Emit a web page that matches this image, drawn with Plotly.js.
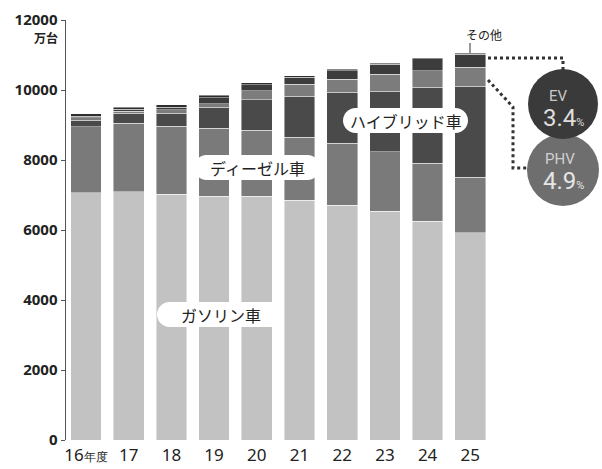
<!DOCTYPE html>
<html>
<head>
<meta charset="utf-8">
<script src="https://cdn.plot.ly/plotly-3.0.1.min.js"></script>
<style>html,body{margin:0;padding:0;background:#fff;}#chart{width:602px;height:469px;}</style>
</head>
<body>
<div id="chart"></div>
<script>
// ---- data (万台) ----
const years = ['16','17','18','19','20','21','22','23','24','25'];
const yearLabels = ['16<span style="font-size:12px">年度</span>','17','18','19','20','21','22','23','24','25'];
const gasoline = [7066, 7094, 7020, 6971, 6971, 6857, 6714, 6543, 6257, 5923];
const diesel   = [1891, 1955, 1951, 1943, 1886, 1800, 1771, 1694, 1649, 1583];
const hybrid   = [186, 280, 372, 600, 860, 1160, 1450, 1734, 2170, 2600];
const phv      = [60, 70, 86, 100, 257, 343, 371, 480, 470, 541];
const ev       = [45, 45, 73, 170, 180, 210, 250, 290, 350, 376];
const other    = [70, 70, 70, 60, 50, 40, 30, 25, 25, 25];
const yTicks   = [0, 2000, 4000, 6000, 8000, 10000, 12000];
const seriesNames = ['ガソリン車', 'ディーゼル車', 'ハイブリッド車', 'PHV', 'EV', 'その他'];
const evShare = '3.4';
const phvShare = '4.9';

// ---- layout helpers (pixel -> paper) ----
const L = 66, W = 536, T = 20, H = 420;
const px = x => (x - L) / W;
const py = y => (T + H - y) / H;

const colors = ['#c2c2c2', '#7a7a7a', '#4a4a4a', '#7c7c7c', '#3c3c3c', '#2e2e2e'];
const allSeries = [gasoline, diesel, hybrid, phv, ev, other];
const traces = allSeries.map((vals, i) => ({
  type: 'bar', x: years, y: vals, name: seriesNames[i],
  marker: {color: colors[i], line: {color: 'rgba(255,255,255,0.55)', width: 0.8}},
  hoverinfo: 'skip'
}));

function pill(x0, y0, x1, y1) {
  const r = (y1 - y0) / 2;
  const P = (x, y) => px(x) + ',' + py(y);
  const k = 0.55 * r;
  return 'M' + P(x0 + r, y0) + ' L' + P(x1 - r, y0) +
    ' C' + P(x1 - r + k, y0) + ' ' + P(x1, y0 + r - k) + ' ' + P(x1, y0 + r) +
    ' C' + P(x1, y1 - r + k) + ' ' + P(x1 - r + k, y1) + ' ' + P(x1 - r, y1) +
    ' L' + P(x0 + r, y1) +
    ' C' + P(x0 + r - k, y1) + ' ' + P(x0, y1 - r + k) + ' ' + P(x0, y0 + r) +
    ' C' + P(x0, y0 + r - k) + ' ' + P(x0 + r - k, y0) + ' ' + P(x0 + r, y0) + ' Z';
}
function path(points) {
  return points.map((p, i) => (i ? 'L' : 'M') + px(p[0]) + ',' + py(p[1])).join(' ');
}

const dot = {color: '#333', width: 3, dash: 'dot'};
const shapes = [
  {type: 'path', xref: 'paper', yref: 'paper', path: pill(157, 302, 284, 327), fillcolor: '#fff', line: {width: 0}},
  {type: 'path', xref: 'paper', yref: 'paper', path: pill(194, 155, 320, 180), fillcolor: '#fff', line: {width: 0}},
  {type: 'path', xref: 'paper', yref: 'paper', path: pill(343, 108, 468, 133), fillcolor: '#fff', line: {width: 0}},
  {type: 'path', xref: 'paper', yref: 'paper', path: path([[488, 58], [563, 58], [563, 70]]), line: dot},
  {type: 'path', xref: 'paper', yref: 'paper', path: path([[488, 80], [513, 107], [513, 168], [528, 168]]), line: dot},
  {type: 'circle', xref: 'paper', yref: 'paper', x0: px(527), x1: px(599), y0: py(206), y1: py(134), fillcolor: '#6e6e6e', line: {width: 0}},
  {type: 'circle', xref: 'paper', yref: 'paper', x0: px(528), x1: px(598), y0: py(139), y1: py(69), fillcolor: '#3a3a3a', line: {width: 0}},
  {type: 'line', xref: 'paper', yref: 'paper', x0: px(470), x1: px(470), y0: py(43), y1: py(53), line: {color: '#333', width: 1}}
];

const jp = 'Noto Sans CJK JP, Noto Sans, sans-serif';
const ann = (x, y, text, size, color, extra) => Object.assign({
  xref: 'paper', yref: 'paper', x: px(x), y: py(y), text: text, showarrow: false,
  xanchor: 'center', yanchor: 'middle', font: {family: jp, size: size, color: color}
}, extra || {});

const annotations = [
  ann(221, 315, seriesNames[0], 16, '#222'),
  ann(257, 168, seriesNames[1], 16, '#222'),
  ann(406, 121, seriesNames[2], 16, '#222'),
  ann(484, 34, seriesNames[5], 12, '#222'),
  ann(46, 38, '万台', 12, '#222', {font: {family: jp, size: 12, color: '#222', weight: 'bold'}}),
  ann(558, 96, 'EV', 15, '#c8c8c8', {font: {family: 'Roboto, sans-serif', size: 15, color: '#c8c8c8'}}),
  ann(563, 118, evShare + '<span style="font-size:11px">%</span>', 24, '#dedede', {font: {family: 'Roboto, sans-serif', size: 24, color: '#dedede'}}),
  ann(560, 159, 'PHV', 15, '#d0d0d0', {font: {family: 'Roboto, sans-serif', size: 15, color: '#d0d0d0'}}),
  ann(563, 181, phvShare + '<span style="font-size:11px">%</span>', 24, '#e6e6e6', {font: {family: 'Roboto, sans-serif', size: 24, color: '#e6e6e6'}})
];

const layout = {
  width: 602, height: 469,
  margin: {l: L, r: 602 - L - W, t: T, b: 469 - T - H, pad: 0},
  paper_bgcolor: '#fff', plot_bgcolor: '#fff',
  barmode: 'stack', bargap: 0.28, showlegend: false,
  xaxis: {
    type: 'category', range: [-0.468, 12.084], showgrid: false, zeroline: false, showline: false,
    ticks: '', tickmode: 'array', tickvals: years, ticktext: yearLabels, ticklabelstandoff: 3,
    tickfont: {family: 'Noto Sans, sans-serif', size: 17, color: '#222'}
  },
  yaxis: {
    range: [0, 12000], showgrid: false, zeroline: false, showline: true, linecolor: '#555', linewidth: 1.5,
    ticks: 'outside', ticklen: 4, tickcolor: '#555', tickmode: 'array', tickvals: yTicks,
    ticktext: yTicks.map(String),
    tickfont: {family: 'Noto Sans, sans-serif', size: 15, color: '#222', weight: 'bold'}
  },
  shapes: shapes,
  annotations: annotations
};

Plotly.newPlot('chart', traces, layout, {displayModeBar: false, staticPlot: true});
</script>
</body>
</html>
